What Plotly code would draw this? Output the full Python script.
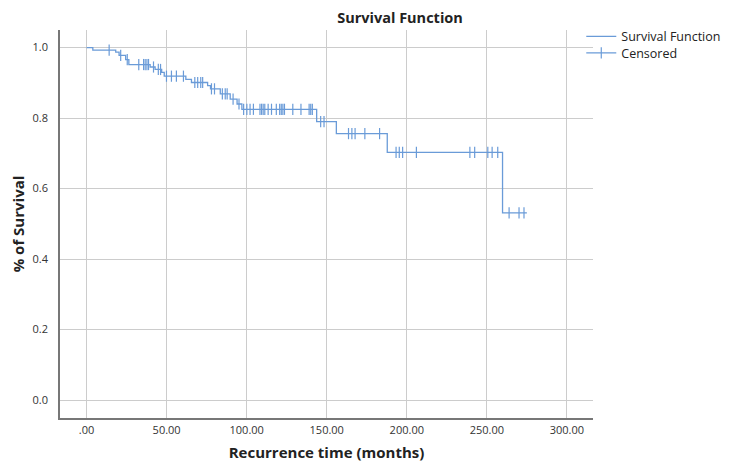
import numpy as np
import plotly.graph_objects as go

# Kaplan-Meier step curve: event times (months) and survival after each step
step_times = [0, 3.9, 18.2, 20.3, 24.4, 26.4, 39.7, 42.8, 46.9, 48.5, 62.0, 65.5,
              75.6, 77.4, 83.5, 89.7, 94.0, 97.0, 143.7, 156.0, 187.8, 259.8, 275.0]
step_surv = [1.0, 0.993, 0.987, 0.978, 0.966, 0.952, 0.945, 0.938, 0.930, 0.919, 0.910, 0.901,
             0.892, 0.883, 0.869, 0.854, 0.840, 0.825, 0.790, 0.756, 0.703, 0.531, 0.531]

# Censored observation times (months)
censored_times = [14.1, 21.3, 25.4, 32.6, 35.6, 36.6, 37.7, 38.7, 41.8, 44.8, 46.2, 49.9,
                  53.0, 56.1, 60.5, 67.6, 69.4, 71.3, 72.5, 78.0, 79.9, 84.8, 86.6, 87.8,
                  91.5, 95.2, 98.1, 100.1, 102.1, 104.2, 108.3, 109.3, 110.3, 111.3, 113.4,
                  115.5, 118.5, 120.6, 121.6, 122.6, 123.6, 128.8, 133.9, 139.0, 140.0, 141.0,
                  146.2, 148.3, 163.6, 165.7, 167.7, 173.8, 183.0, 193.3, 195.3, 197.4, 206.0,
                  239.4, 242.4, 250.6, 253.3, 256.8, 263.9, 270.1, 273.2]

x_tick_vals = [0, 50, 100, 150, 200, 250, 300]
x_tick_text = [".00", "50.00", "100.00", "150.00", "200.00", "250.00", "300.00"]
y_tick_vals = [0.0, 0.2, 0.4, 0.6, 0.8, 1.0]
y_tick_text = ["0.0", "0.2", "0.4", "0.6", "0.8", "1.0"]

# survival value at each censored time
idx = np.searchsorted(step_times, censored_times, side="right") - 1
censored_surv = [step_surv[i] for i in idx]

# interleave gaps so that the censored trace draws no connecting line
cx, cy = [], []
for t, s in zip(censored_times, censored_surv):
    cx += [t, None]
    cy += [s, None]

color = "#6a9bd8"
font = "Open Sans"

fig = go.Figure()
fig.add_trace(go.Scatter(x=step_times, y=step_surv, mode="lines", line_shape="hv",
                         line=dict(color=color, width=1.3), name="Survival Function",
                         legend="legend"))
fig.add_trace(go.Scatter(x=cx, y=cy, mode="lines+markers", connectgaps=False,
                         line=dict(color=color, width=1.2),
                         marker=dict(symbol="line-ns", size=8,
                                     line=dict(color=color, width=1.2)),
                         name="Censored", legend="legend2"))

legend_common = dict(xanchor="left", yanchor="top", bgcolor="rgba(0,0,0,0)",
                     font=dict(size=12.5, color="#222"), itemwidth=30)

fig.update_layout(
    width=738, height=462,
    margin=dict(l=60, r=136, t=30, b=44),
    paper_bgcolor="white", plot_bgcolor="white",
    font=dict(family=font, color="#222", size=11),
    title=dict(text="<b>Survival Function</b>", x=400/738, xanchor="center",
               y=1-18/462, yanchor="middle", font=dict(size=14.5, color="#222")),
    legend=dict(x=0.978, y=1.0214, **legend_common),
    legend2=dict(x=0.978, y=0.9786, **legend_common),
    showlegend=True,
)
fig.update_xaxes(range=[-16.6, 316.3], tickvals=x_tick_vals, ticktext=x_tick_text,
                 showgrid=True, gridcolor="#cccccc", gridwidth=1, automargin=False,
                 showline=True, linecolor="#777", linewidth=1.5, zeroline=False,
                 ticks="", tickfont=dict(size=11, color="#333"), ticklabelstandoff=1,
                 title=dict(text="<b>Recurrence time (months)</b>", font=dict(size=15, color="#222"),
                            standoff=16))
fig.update_yaxes(range=[-0.051, 1.050], tickvals=y_tick_vals, ticktext=y_tick_text,
                 showgrid=True, gridcolor="#cccccc", gridwidth=1, automargin=False,
                 showline=True, linecolor="#777", linewidth=1.5, zeroline=False,
                 ticks="", tickfont=dict(size=11, color="#333"), ticklabelstandoff=8,
                 title=dict(text="<b>% of Survival</b>", font=dict(size=15, color="#222"),
                            standoff=4))

fig.write_html("out.html")
